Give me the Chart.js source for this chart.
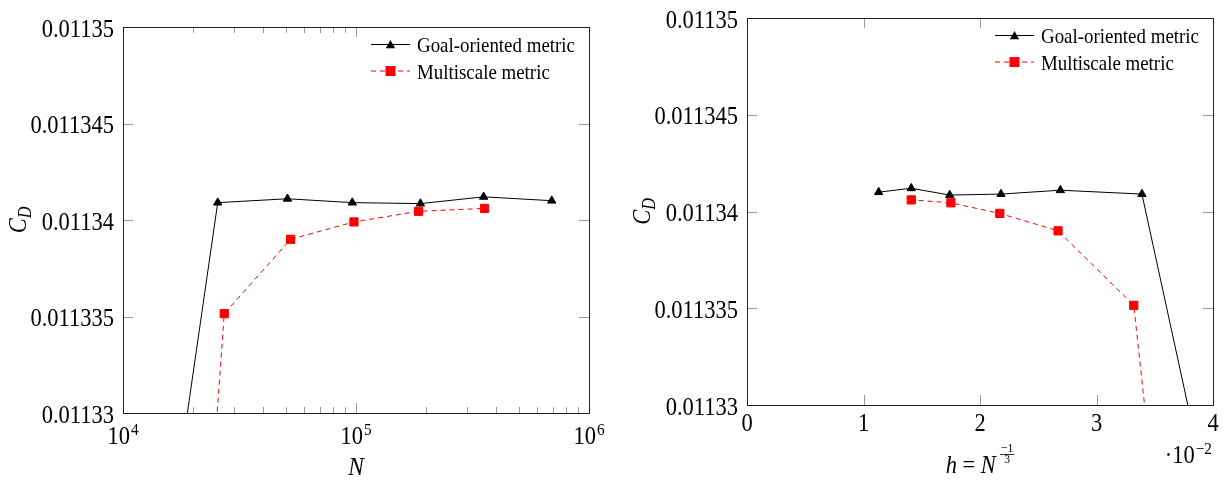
<!DOCTYPE html>
<html><head><meta charset="utf-8">
<script src="https://cdn.jsdelivr.net/npm/chart.js@4.4.0/dist/chart.umd.min.js"></script>
<style>
html,body{margin:0;padding:0;background:#fff;}
#wrap{position:relative;width:1225px;height:487px;overflow:hidden;}
canvas{position:absolute;top:0;}
</style></head><body>
<div id="wrap">
<canvas id="left" width="612" height="487" style="left:0"></canvas>
<canvas id="right" width="613" height="487" style="left:612px"></canvas>
</div>
<script>
// ---- data ----
const seriesNames = ['Goal-oriented metric', 'Multiscale metric'];
const goalN  = [11200, 25500, 50800, 96400, 189000, 353000, 692000];
const goalH  = [0.0447, 0.0339, 0.0269, 0.0218, 0.0174, 0.0141, 0.0113];
const goalCD = [0.011311, 0.0113409, 0.0113411, 0.0113409, 0.01134085, 0.0113412, 0.011341];
const multiN  = [10000, 27200, 52400, 98000, 185500, 356000];
const multiH  = [0.0464, 0.0332, 0.0267, 0.0217, 0.0175, 0.0141];
const multiCD = [0.0112617, 0.01133515, 0.011339, 0.0113399, 0.01134045, 0.0113406];
const yTicks = [0.01133, 0.011335, 0.01134, 0.011345, 0.01135];
const yTickLabels = ['0.01133', '0.011335', '0.01134', '0.011345', '0.01135'];
const xTicksN = [1e4, 1e5, 1e6];
const xTickExpN = ['4', '5', '6'];
const xMinorN = [2e4,3e4,4e4,5e4,6e4,7e4,8e4,9e4,2e5,3e5,4e5,5e5,6e5,7e5,8e5,9e5];
const xTicksH = [0, 0.01, 0.02, 0.03, 0.04];
const xTickLabelsH = ['0', '1', '2', '3', '4'];

const SERIF = 'Liberation Serif';
const SX = 0.9; // horizontal text compression seen in the reference
Chart.defaults.font.family = SERIF;
Chart.defaults.color = '#000';
const F = (size, italic) => (italic ? 'italic ' : '') + size + 'px "' + SERIF + '"';

function drawTriangle(ctx, x, y, r) {
  ctx.beginPath();
  for (let k = 0; k < 3; k++) {
    const a = k * 2 * Math.PI / 3;
    const px = x + Math.sin(a) * r, py = y - Math.cos(a) * r;
    if (k === 0) ctx.moveTo(px, py); else ctx.lineTo(px, py);
  }
  ctx.closePath(); ctx.fill();
}

// draw a sequence of text runs; align: 'center' | 'right' | 'left'
function drawRuns(ctx, runs, ax, base, align) {
  let w = 0;
  runs.forEach(r => { ctx.font = r.font; r.w = ctx.measureText(r.t).width * SX + (r.gap || 0); w += r.w; });
  let x = align === 'right' ? ax - w : align === 'left' ? ax : ax - w / 2;
  ctx.textAlign = 'left'; ctx.textBaseline = 'alphabetic';
  runs.forEach(r => {
    ctx.save(); ctx.translate(x + (r.gap || 0), base + (r.dy || 0)); ctx.scale(SX, 1);
    ctx.font = r.font; ctx.fillText(r.t, 0, 0); ctx.restore();
    x += r.w;
  });
  return w;
}

function makeDecor(o) {
  return {
    id: 'decor',
    afterDraw(chart) {
      const ctx = chart.ctx, a = chart.chartArea, xs = chart.scales.x, ys = chart.scales.y;
      ctx.save();
      // inner ticks
      ctx.strokeStyle = '#9a9a9a'; ctx.lineWidth = 1; ctx.beginPath();
      yTicks.forEach(v => {
        const p = Math.round(ys.getPixelForValue(v)) + 0.5;
        if (p < a.top + 2 || p > a.bottom - 2) return;
        ctx.moveTo(a.left, p); ctx.lineTo(a.left + 10, p);
        ctx.moveTo(a.right, p); ctx.lineTo(a.right - 10, p);
      });
      const xt = (vals, len) => vals.forEach(v => {
        const p = Math.round(xs.getPixelForValue(v)) + 0.5;
        if (p < a.left + 2 || p > a.right - 2) return;
        ctx.moveTo(p, a.bottom); ctx.lineTo(p, a.bottom - len);
        ctx.moveTo(p, a.top); ctx.lineTo(p, a.top + len);
      });
      xt(o.xMajor, 10); xt(o.xMinor, 6);
      ctx.stroke();

      // legend
      const bw = 226, bh = 60;
      const bx = a.right - bw, by = a.top;
      ctx.fillStyle = '#fff'; ctx.fillRect(bx, by + 1, bw - 1, bh);
      const rows = [by + 17.5, by + 44];
      const lx0 = bx + 8, lx1 = bx + 47, mx = (lx0 + lx1) / 2;
      ctx.strokeStyle = '#000'; ctx.lineWidth = 1; ctx.setLineDash([]);
      ctx.beginPath(); ctx.moveTo(lx0, rows[0]); ctx.lineTo(lx1, rows[0]); ctx.stroke();
      ctx.fillStyle = '#000'; drawTriangle(ctx, mx, rows[0] + 1, 5.4);
      ctx.strokeStyle = '#ff0000'; ctx.setLineDash([5, 4]);
      ctx.beginPath(); ctx.moveTo(lx0, rows[1]); ctx.lineTo(lx1, rows[1]); ctx.stroke();
      ctx.setLineDash([]);
      ctx.fillStyle = '#ff0000'; ctx.fillRect(mx - 5, rows[1] - 5, 10, 10);
      ctx.fillStyle = '#000';
      drawRuns(ctx, [{ t: seriesNames[0], font: F(21) }], bx + 54, rows[0] + 7.5, 'left');
      drawRuns(ctx, [{ t: seriesNames[1], font: F(21) }], bx + 54, rows[1] + 7.5, 'left');

      // frame
      ctx.strokeStyle = '#222'; ctx.lineWidth = 1;
      ctx.strokeRect(Math.round(a.left) + 0.5, Math.round(a.top) + 0.5,
                     Math.round(a.right - a.left), Math.round(a.bottom - a.top));

      // y tick labels
      ctx.fillStyle = '#000';
      yTicks.forEach((v, i) => {
        const p = ys.getPixelForValue(v);
        drawRuns(ctx, [{ t: yTickLabels[i], font: F(25) }], a.left - 9, p + 9.5, 'right');
      });

      // y title C_D (rotated)
      ctx.save();
      ctx.translate(a.left - 97, (a.top + a.bottom) / 2);
      ctx.rotate(-Math.PI / 2);
      drawRuns(ctx, [
        { t: 'C', font: F(25, true) },
        { t: 'D', font: F(18, true), dy: 5 }
      ], 0, 0, 'center');
      ctx.restore();

      o.extra(ctx, a, xs);
      ctx.restore();
    }
  };
}

function baseOptions(o) {
  return {
    responsive: false,
    animation: false,
    events: [],
    layout: { padding: o.padding },
    plugins: { legend: { display: false }, tooltip: { enabled: false } },
    scales: {
      x: o.x,
      y: {
        type: 'linear', min: yTicks[0], max: yTicks[yTicks.length - 1],
        afterBuildTicks: s => { s.ticks = yTicks.map(v => ({ value: v })); },
        ticks: { display: false },
        grid: { display: false, drawTicks: false }, border: { display: false },
        afterFit: s => { s.width = o.yWidth; }
      }
    }
  };
}

function datasets(xG, xM) {
  return [
    {
      label: seriesNames[0],
      data: xG.map((v, i) => ({ x: v, y: goalCD[i] })),
      borderColor: '#000', backgroundColor: '#000', borderWidth: 1,
      pointStyle: 'triangle', pointRadius: 4.8, pointBorderWidth: 1,
      pointBackgroundColor: '#000', pointBorderColor: '#000',
      tension: 0, fill: false, order: 2
    },
    {
      label: seriesNames[1],
      data: xM.map((v, i) => ({ x: v, y: multiCD[i] })),
      borderColor: '#ff0000', backgroundColor: '#ff0000', borderWidth: 1, borderDash: [5, 4],
      pointStyle: 'rect', pointRadius: 5.8, pointBorderWidth: 1,
      pointBackgroundColor: '#ff0000', pointBorderColor: '#ff0000',
      tension: 0, fill: false, order: 1
    }
  ];
}

// ---- left chart: C_D vs N (log) ----
new Chart(document.getElementById('left'), {
  type: 'line',
  data: { datasets: datasets(goalN, multiN) },
  options: baseOptions({
    padding: { top: 27, right: 23, left: 0, bottom: 0 },
    yWidth: 123,
    x: {
      type: 'logarithmic', min: xTicksN[0], max: xTicksN[xTicksN.length - 1],
      afterBuildTicks: s => { s.ticks = xTicksN.map(v => ({ value: v })); },
      ticks: { display: false },
      grid: { display: false }, border: { display: false },
      afterFit: s => { s.height = 74; }
    }
  }),
  plugins: [makeDecor({
    xMajor: xTicksN, xMinor: xMinorN,
    extra(ctx, a, xs) {
      ctx.fillStyle = '#000';
      xTicksN.forEach((v, i) => {
        const p = xs.getPixelForValue(v);
        drawRuns(ctx, [
          { t: '10', font: F(25) },
          { t: xTickExpN[i], font: F(17), dy: -9, gap: 1 }
        ], p, 444, 'center');
      });
      drawRuns(ctx, [{ t: 'N', font: F(26, true) }], (a.left + a.right) / 2, 475, 'center');
    }
  })]
});

// ---- right chart: C_D vs h ----
new Chart(document.getElementById('right'), {
  type: 'line',
  data: { datasets: datasets(goalH, multiH) },
  options: baseOptions({
    padding: { top: 18, right: 12, left: 0, bottom: 0 },
    yWidth: 135,
    x: {
      type: 'linear', min: xTicksH[0], max: xTicksH[xTicksH.length - 1],
      afterBuildTicks: s => { s.ticks = xTicksH.map(v => ({ value: v })); },
      ticks: { display: false },
      grid: { display: false, drawTicks: false }, border: { display: false },
      afterFit: s => { s.height = 82; }
    }
  }),
  plugins: [makeDecor({
    xMajor: xTicksH, xMinor: [],
    extra(ctx, a, xs) {
      ctx.fillStyle = '#000';
      xTicksH.forEach((v, i) => {
        drawRuns(ctx, [{ t: xTickLabelsH[i], font: F(25) }], xs.getPixelForValue(v), 431, 'center');
      });
      // x title: h = N^(-1/3)
      const fS = F(13);
      ctx.font = fS;
      const fw = Math.max(ctx.measureText('\u22121').width, ctx.measureText('3').width) * SX + 2;
      const runs = [{ t: 'h', font: F(25, true) }, { t: ' = ', font: F(25) }, { t: 'N', font: F(25, true) }];
      let w = 0;
      runs.forEach(r => { ctx.font = r.font; w += ctx.measureText(r.t).width * SX; });
      const total = w + 4 + fw;
      let x = (a.left + a.right) / 2 - total / 2;
      drawRuns(ctx, runs, x, 473, 'left');
      x += w + 4;
      drawRuns(ctx, [{ t: '\u22121', font: fS }], x + fw / 2, 452, 'center');
      drawRuns(ctx, [{ t: '3', font: fS }], x + fw / 2, 463, 'center');
      ctx.strokeStyle = '#000'; ctx.lineWidth = 0.8;
      ctx.beginPath(); ctx.moveTo(x, 454.5); ctx.lineTo(x + fw, 454.5); ctx.stroke();
      // scale factor ·10^-2
      drawRuns(ctx, [
        { t: '\u00b710', font: F(25) },
        { t: '\u22122', font: F(17), dy: -9, gap: 1 }
      ], a.right - 1, 463, 'right');
    }
  })]
});
</script>
</body></html>
